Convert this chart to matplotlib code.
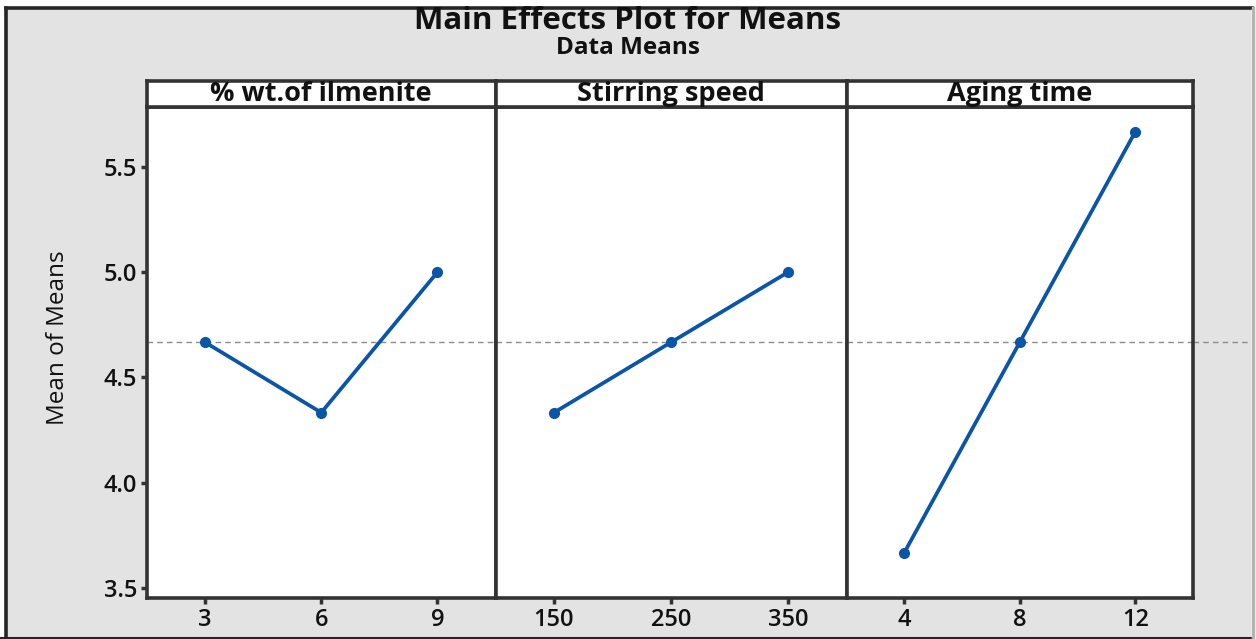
import numpy as np
import matplotlib.pyplot as plt
from matplotlib.patches import Rectangle

# factors, levels and mean of means
factors = ['% wt.of ilmenite', 'Stirring speed', 'Aging time']
levels = [['3', '6', '9'], ['150', '250', '350'], ['4', '8', '12']]
means_wt = [4.667, 4.333, 5.000]
means_speed = [4.333, 4.667, 5.000]
means_aging = [3.667, 4.667, 5.667]
yticks = [3.5, 4.0, 4.5, 5.0, 5.5]

all_means = [means_wt, means_speed, means_aging]
grand_mean = np.mean(means_wt)

plt.rcParams['font.family'] = ['Open Sans', 'DejaVu Sans']

W, H = 1256, 639
fig = plt.figure(figsize=(W / 100, H / 100), dpi=100)
fig.patch.set_facecolor('white')

# grey background with dark frame
fig.add_artist(Rectangle((6 / W, 1 - 637 / H), 1245 / W, 629 / H, transform=fig.transFigure,
                         facecolor='#e3e3e3', edgecolor='none', zorder=0))
fig.add_artist(plt.Line2D([6 / W, 6 / W], [1 - 8 / H, 1 - 637 / H], color='#262626', lw=2.6, transform=fig.transFigure))
fig.add_artist(plt.Line2D([6 / W, 1 - 4 / W], [1 - 8 / H, 1 - 8 / H], color='#262626', lw=2.6, transform=fig.transFigure))
fig.add_artist(plt.Line2D([0, 1 - 4 / W], [1 - 637.5 / H, 1 - 637.5 / H], color='#262626', lw=1.5, transform=fig.transFigure))
fig.add_artist(plt.Line2D([1 - 3 / W, 1 - 3 / W], [1 - 8 / H, 1 - 637 / H], color='#b4b4b4', lw=2.5, transform=fig.transFigure))

edges = [147, 495.5, 846.5, 1193]
y_top, y_bot, strip_top = 107, 598, 81
line_col = '#0a55a6'
spine_col = '#333333'
txt_col = '#111111'

axes = []
for i in range(3):
    x0 = edges[i] / W
    w = (edges[i + 1] - edges[i]) / W
    ax = fig.add_axes([x0, 1 - y_bot / H, w, (y_bot - y_top) / H])
    ax.set_facecolor('white')
    xs = np.arange(len(levels[i]))
    ax.plot(xs, all_means[i], color=line_col, lw=2.7, marker='o', ms=7, zorder=3)
    ax.set_xlim(-0.5, 2.5)
    ax.set_ylim(3.452, 5.785)
    ax.set_xticks(xs)
    ax.set_xticklabels(levels[i], fontsize=17, fontweight='semibold', color=txt_col)
    ax.set_yticks(yticks)
    if i == 0:
        ax.set_yticklabels(['%.1f' % v for v in yticks], fontsize=17, fontweight='semibold', color=txt_col)
        ax.set_ylabel('Mean of Means', fontsize=17.5, color=txt_col)
        ax.yaxis.set_label_coords(-0.22, 0.53)
    else:
        ax.tick_params(axis='y', left=False, labelleft=False)
    ax.tick_params(axis='both', direction='out', length=4, width=2.5, color=spine_col, pad=3)
    for s in ax.spines.values():
        s.set_color(spine_col)
        s.set_linewidth(2.6)
    # grand mean reference line
    ax.axhline(grand_mean, color='#8c8c8c', lw=1.0, ls=(0, (4, 3)), zorder=1)
    axes.append(ax)

    # strip with factor name
    sax = fig.add_axes([x0, 1 - y_top / H, w, (y_top - strip_top) / H])
    sax.set_facecolor('white')
    sax.set_xticks([])
    sax.set_yticks([])
    for s in sax.spines.values():
        s.set_color(spine_col)
        s.set_linewidth(2.6)
    sax.text(0.5, 0.5, factors[i], ha='center', va='center', fontsize=19.5,
             fontweight='bold', color=txt_col, transform=sax.transAxes)

# reference line continues into the right margin
last = axes[-1]
last.plot([2.5, 2.5 + (1250 - 1193) / 116], [grand_mean, grand_mean], color='#8c8c8c', lw=1.0,
          ls=(0, (4, 3)), clip_on=False, zorder=1)

fig.text(0.5, 1 - 21 / H, 'Main Effects Plot for Means', ha='center', va='center', fontsize=22.5,
         fontweight='bold', color=txt_col)
fig.text(0.5, 1 - 48 / H, 'Data Means', ha='center', va='center', fontsize=17.5,
         fontweight='bold', color=txt_col)

plt.savefig('out.png', dpi=100, facecolor=fig.get_facecolor())
